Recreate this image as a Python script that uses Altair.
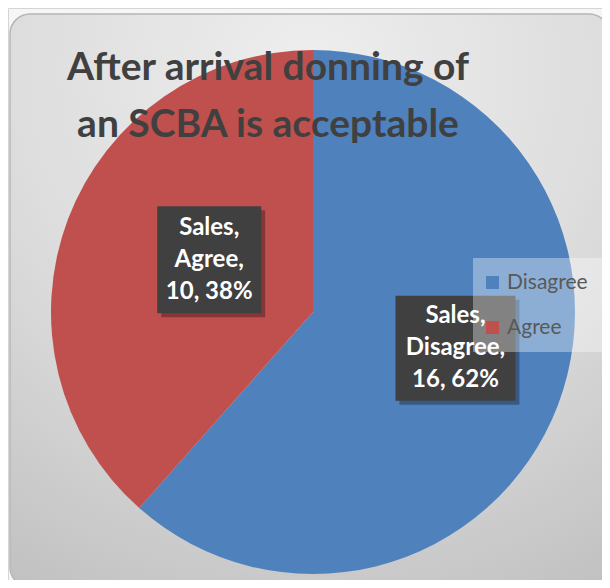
import math
import altair as alt
import pandas as pd

# ---- data ----
categories = ["Disagree", "Agree"]
values = [16, 10]
series_name = "Sales"
colors = ["#4f81bd", "#c0504d"]
title_lines = ["After arrival donning of", "an SCBA is acceptable"]

# ---- layout ----
W, H = 594, 572
CX, CY = 305, 304
R = 262
LINE_H = 32
label_r = [147, 111]
label_dx = [5, 0]
label_dy = [-16, -13]
box_w = [120, 104]
box_h = [105, 107]

total = sum(values)
rows = []
cum = 0
for i, (c, v) in enumerate(zip(categories, values)):
    pct = round(100 * v / total)
    mid = (cum + v / 2) / total * 2 * math.pi
    cum += v
    rows.append(dict(category=c, value=v, order=i,
                     label=f"{series_name},\n{c},\n{v}, {pct}%", mid=mid))
df = pd.DataFrame(rows)
df["lx"] = [CX + r * math.sin(m) + d for r, m, d in zip(label_r, df["mid"], label_dx)]
df["ly"] = [CY - r * math.cos(m) + d for r, m, d in zip(label_r, df["mid"], label_dy)]
df["ty"] = df["ly"] - LINE_H
df["bx1"] = df["lx"] - pd.Series(box_w) / 2
df["bx2"] = df["lx"] + pd.Series(box_w) / 2
df["by1"] = df["ly"] - pd.Series(box_h) / 2
df["by2"] = df["ly"] + pd.Series(box_h) / 2
df["sx1"] = df["bx1"] + 4
df["sx2"] = df["bx2"] + 4
df["sy1"] = df["by1"] + 4
df["sy2"] = df["by2"] + 4

one = pd.DataFrame({"a": [0]})

bg = alt.Chart(one).mark_rect(
    fill={"gradient": "radial", "x1": 0.5, "y1": 0.12, "r1": 0.0,
          "x2": 0.5, "y2": 0.12, "r2": 1.0,
          "stops": [{"offset": 0, "color": "#f7f7f7"},
                    {"offset": 0.5, "color": "#e6e6e6"},
                    {"offset": 1, "color": "#c8c8c8"}]},
    stroke="#bdbdbd", strokeWidth=1.5, cornerRadius=20,
).encode(x=alt.value(2), x2=alt.value(601), y=alt.value(6), y2=alt.value(579))

shadow_df = pd.DataFrame({"r": [R + 2, R + 5, R + 8, R + 12, R + 16]})
shadow = alt.Chart(shadow_df).mark_arc(theta=0, theta2=6.2832, color="black", opacity=0.035).encode(
    radius=alt.Radius("r:Q", scale=None),
    x=alt.value(CX), y=alt.value(CY + 2),
)

color_scale = alt.Scale(domain=categories, range=colors)

pie = alt.Chart(df).mark_arc(radius=R).encode(
    theta=alt.Theta("value:Q", stack=True),
    order=alt.Order("order:Q"),
    color=alt.Color("category:N", scale=color_scale, sort=categories,
                    legend=alt.Legend(title=None, orient="none", legendX=465, legendY=250,
                                      fillColor="rgba(255,255,255,0.35)", padding=14,
                                      symbolType="square", symbolSize=169, symbolStrokeWidth=0,
                                      symbolOffset=-5,
                                      labelFontSize=21, labelFont="Lato", labelColor="#595959",
                                      labelOffset=4, rowPadding=23, labelLimit=200)),
    x=alt.value(CX), y=alt.value(CY),
)

box_shadow = alt.Chart(df).mark_rect(color="black", opacity=0.3).encode(
    x=alt.X("sx1:Q", scale=None), x2="sx2", y=alt.Y("sy1:Q", scale=None), y2="sy2")
box = alt.Chart(df).mark_rect(color="#404040").encode(
    x=alt.X("bx1:Q", scale=None), x2="bx2", y=alt.Y("by1:Q", scale=None), y2="by2")
label = alt.Chart(df).mark_text(
    color="white", font="Lato", fontWeight="bold", fontSize=24, lineBreak="\n", lineHeight=LINE_H,
    align="center", baseline="middle",
).encode(x=alt.X("lx:Q", scale=None), y=alt.Y("ty:Q", scale=None), text="label:N")

title_df = pd.DataFrame({"t": ["\n".join(title_lines)]})
title = alt.Chart(title_df).mark_text(
    color="#404040", font="Lato", fontWeight="bold", fontSize=39, lineBreak="\n", lineHeight=57,
    align="center", baseline="middle",
).encode(x=alt.value(260), y=alt.value(60), text="t:N")

chart = alt.layer(bg, shadow, pie, box_shadow, box, label, title).properties(
    width=W, height=H, autosize=alt.AutoSizeParams(type="none"), padding=0,
).configure_view(stroke=None).configure(background="white")

chart.save("out.html", embed_options={"renderer": "svg", "actions": False})
